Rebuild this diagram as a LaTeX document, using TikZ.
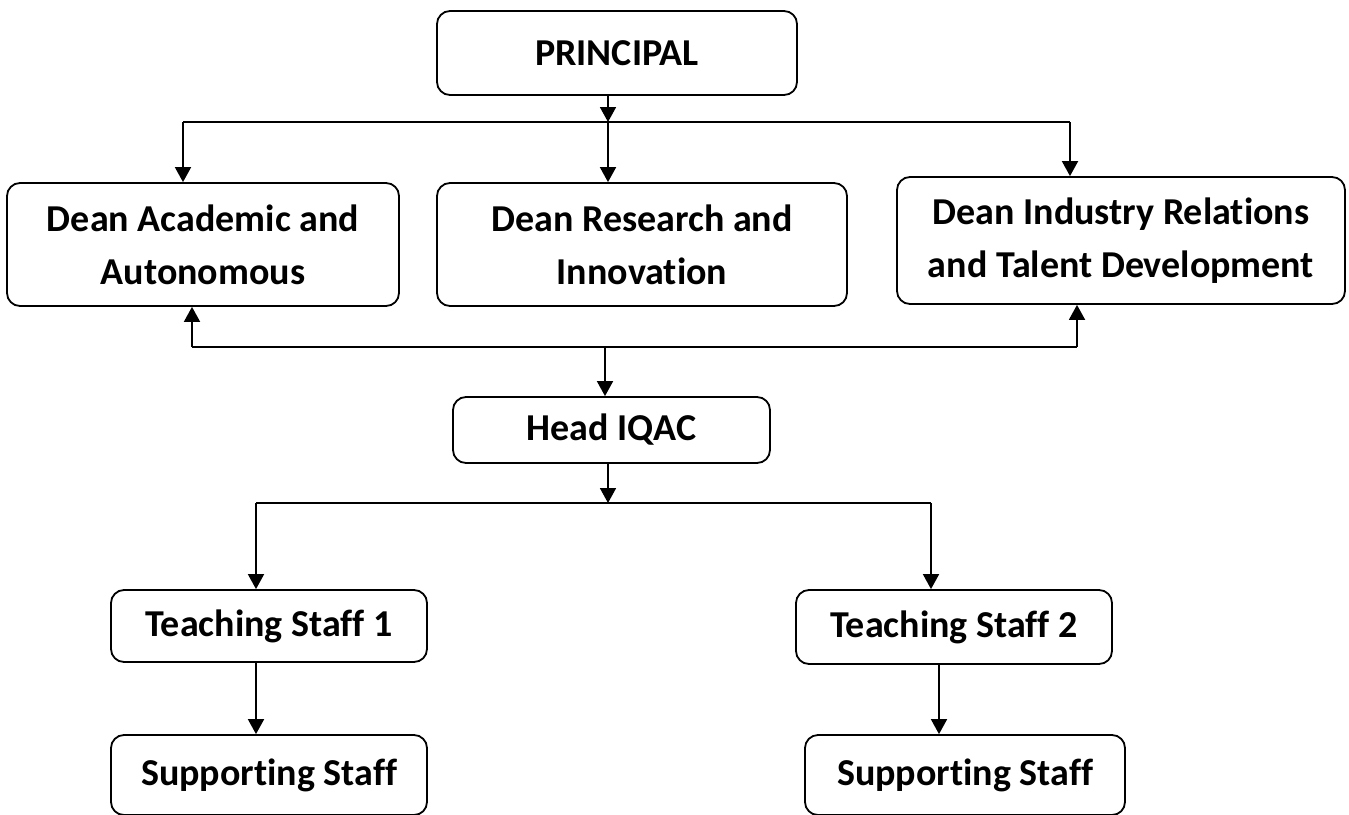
\documentclass[tikz,border=0pt]{standalone}
\usepackage{fontspec}
\setmainfont{Carlito}[Ligatures=CommonOff]
\usetikzlibrary{arrows.meta}
\tikzset{
  box/.style={draw, line width=1.8pt, rounded corners=13pt, align=center,
    font=\fontsize{38}{53}\selectfont\bfseries, inner sep=0pt},
  conn/.style={line width=1.8pt},
  arr/.style={conn, -{Triangle[width=16pt,length=15pt]}}
}
\begin{document}
\begin{tikzpicture}[x=1pt,y=-1pt]
\useasboundingbox (0,0) rectangle (1349,814);
% boxes
\node[box, minimum width=360pt, minimum height=84pt] (P) at (617,53) {PRINCIPAL};
\node[box, minimum width=392pt, minimum height=123pt] (D1) at (203,244.5) {Dean Academic and\\Autonomous};
\node[box, minimum width=410pt, minimum height=123pt] (D2) at (642,244.5) {Dean Research and\\Innovation};
\node[box, minimum width=448pt, minimum height=127pt] (D3) at (1121,240.5) {Dean Industry Relations\\and Talent Development};
\node[box, minimum width=317pt, minimum height=66pt] (H) at (611.5,430) {Head IQAC};
\node[box, minimum width=316pt, minimum height=72pt] (T1) at (269,626) {Teaching Staff 1};
\node[box, minimum width=316pt, minimum height=74pt] (T2) at (954,627) {Teaching Staff 2};
\node[box, minimum width=316pt, minimum height=80pt] (S1) at (269,775) {Supporting Staff};
\node[box, minimum width=320pt, minimum height=80pt] (S2) at (965,775) {Supporting Staff};
% junction coordinates
\coordinate (j1) at (608,122);
\coordinate (l1) at (183,122);
\coordinate (r1) at (1070,122);
\coordinate (j2) at (605,347);
\coordinate (l2) at (192,347);
\coordinate (r2) at (1077,347);
\coordinate (j3) at (608,503);
\coordinate (l3) at (256,503);
\coordinate (r3) at (931,503);
\coordinate (m2) at (939,0);
% principal to deans
\draw[arr] (P.south -| j1) -- (j1);
\draw[conn] (l1) -- (r1);
\draw[arr] (l1) -- (l1 |- D1.north);
\draw[arr] (j1) -- (j1 |- D2.north);
\draw[arr] (r1) -- (r1 |- D3.north);
% feedback to deans and down to IQAC
\draw[conn] (l2) -- (r2);
\draw[arr] (l2) -- (l2 |- D1.south);
\draw[arr] (r2) -- (r2 |- D3.south);
\draw[arr] (j2) -- (j2 |- H.north);
% IQAC to teaching staff
\draw[arr] (H.south -| j3) -- (j3);
\draw[conn] (l3) -- (r3);
\draw[arr] (l3) -- (l3 |- T1.north);
\draw[arr] (r3) -- (r3 |- T2.north);
% teaching to supporting
\draw[arr] (T1.south -| l3) -- (S1.north -| l3);
\draw[arr] (T2.south -| m2) -- (S2.north -| m2);
\end{tikzpicture}
\end{document}
